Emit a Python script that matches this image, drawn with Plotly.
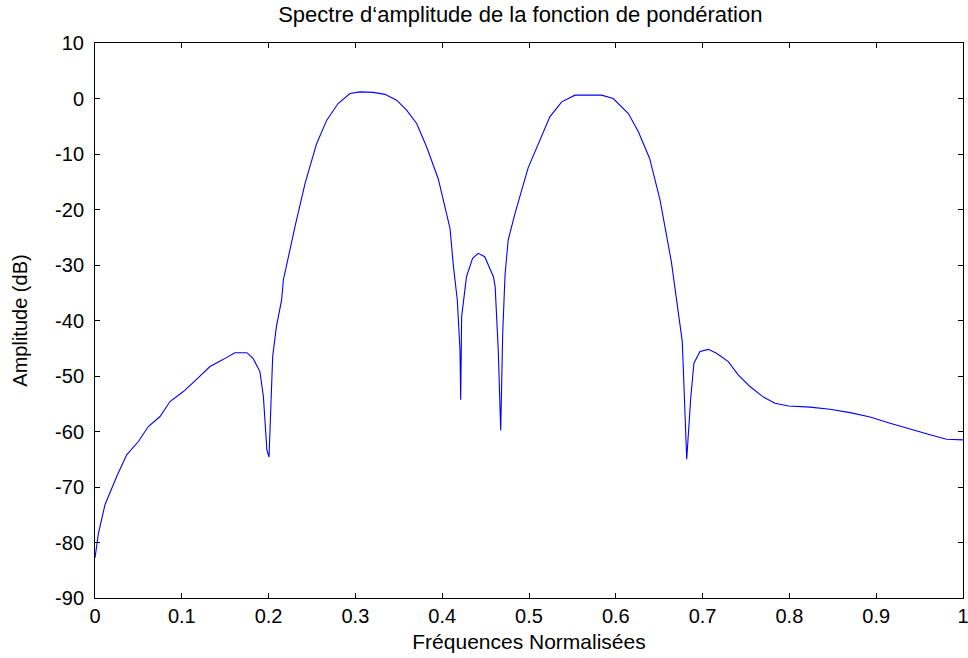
import plotly.graph_objects as go

freq = [0.000, 0.004, 0.0115, 0.025, 0.0365, 0.050, 0.0614, 0.0749, 0.0864, 0.1018,
        0.117, 0.1325, 0.148, 0.161, 0.175, 0.182, 0.190, 0.194, 0.198, 0.2005,
        0.2047, 0.209, 0.215, 0.217, 0.2304, 0.242, 0.2554, 0.267, 0.280, 0.2938,
        0.305, 0.3206, 0.334, 0.3475, 0.359, 0.3706, 0.382, 0.3955, 0.409, 0.413,
        0.4174, 0.4205, 0.4213, 0.4224, 0.428, 0.435, 0.4416, 0.449, 0.459, 0.461,
        0.4646, 0.4674, 0.4697, 0.4724, 0.476, 0.4839, 0.499, 0.5107, 0.524, 0.5377,
        0.553, 0.5837, 0.597, 0.6145, 0.626, 0.639, 0.651, 0.664, 0.672, 0.6766,
        0.6817, 0.6863, 0.690, 0.697, 0.7066, 0.716, 0.7296, 0.741, 0.7546, 0.770,
        0.7834, 0.799, 0.8237, 0.8468, 0.870, 0.8929, 0.916, 0.939, 0.962, 0.981,
        1.000]
amp_db = [-82.8, -78.3, -73.2, -68.1, -64.2, -61.8, -59.1, -57.3, -54.6, -52.8,
          -50.6, -48.3, -47.0, -45.8, -45.8, -46.8, -49.2, -53.7, -63.3, -64.6,
          -46.5, -41.1, -36.3, -32.7, -23.1, -15.3, -8.1, -3.9, -0.9, 0.9,
          1.2, 1.1, 0.75, -0.3, -2.1, -4.5, -8.7, -14.5, -23.4, -30.3,
          -36.3, -45.3, -54.3, -39.3, -32.1, -28.8, -27.9, -28.5, -32.1, -33.9,
          -45.3, -59.8, -42.3, -31.8, -25.5, -20.7, -12.5, -8.1, -3.3, -0.6,
          0.6, 0.6, 0.0, -2.7, -6.0, -10.8, -18.3, -29.4, -38.1, -43.8,
          -65.0, -54.0, -47.7, -45.6, -45.2, -45.9, -47.4, -49.8, -51.9, -53.8,
          -54.9, -55.4, -55.6, -56.0, -56.6, -57.4, -58.5, -59.6, -60.6, -61.4,
          -61.5]

x_ticks = [0, 0.1, 0.2, 0.3, 0.4, 0.5, 0.6, 0.7, 0.8, 0.9, 1]
x_tick_labels = ["0", "0.1", "0.2", "0.3", "0.4", "0.5", "0.6", "0.7", "0.8", "0.9", "1"]
y_ticks = [10, 0, -10, -20, -30, -40, -50, -60, -70, -80, -90]
y_tick_labels = ["10", "0", "-10", "-20", "-30", "-40", "-50", "-60", "-70", "-80", "-90"]

font_family = "Liberation Sans, Arial, sans-serif"

fig = go.Figure()
fig.add_trace(go.Scatter(x=freq, y=amp_db, mode="lines",
                         line=dict(color="#0000FF", width=1.1),
                         showlegend=False, hoverinfo="skip"))

fig.update_layout(
    width=968, height=658,
    paper_bgcolor="white", plot_bgcolor="white",
    margin=dict(l=95, r=5, t=43, b=60),
    font=dict(family=font_family, size=20, color="black"),
    title=dict(text="Spectre d\u2018amplitude de la fonction de pondération",
               x=0.49, xref="paper", xanchor="center",
               y=1 - 14 / 658, yref="container", yanchor="middle",
               font=dict(family=font_family, size=22, color="black")),
)
fig.update_xaxes(
    range=[0, 1], tickvals=x_ticks, ticktext=x_tick_labels,
    ticks="inside", ticklen=5, tickcolor="black", tickwidth=1,
    showline=True, linecolor="black", linewidth=1, mirror="ticks",
    showgrid=False, zeroline=False, automargin=False,
    ticklabeloverflow="allow",
    tickfont=dict(size=20),
    title=dict(text="Fréquences Normalisées", font=dict(size=21), standoff=8),
)
fig.update_yaxes(
    range=[-90, 10], tickvals=y_ticks, ticktext=y_tick_labels,
    ticks="inside", ticklen=5, tickcolor="black", tickwidth=1,
    showline=True, linecolor="black", linewidth=1, mirror="ticks",
    showgrid=False, zeroline=False, automargin=False,
    ticklabelstandoff=6,
    tickfont=dict(size=20),
    title=dict(text="Amplitude (dB)", font=dict(size=20), standoff=22),
)

fig.write_html("out.html")
